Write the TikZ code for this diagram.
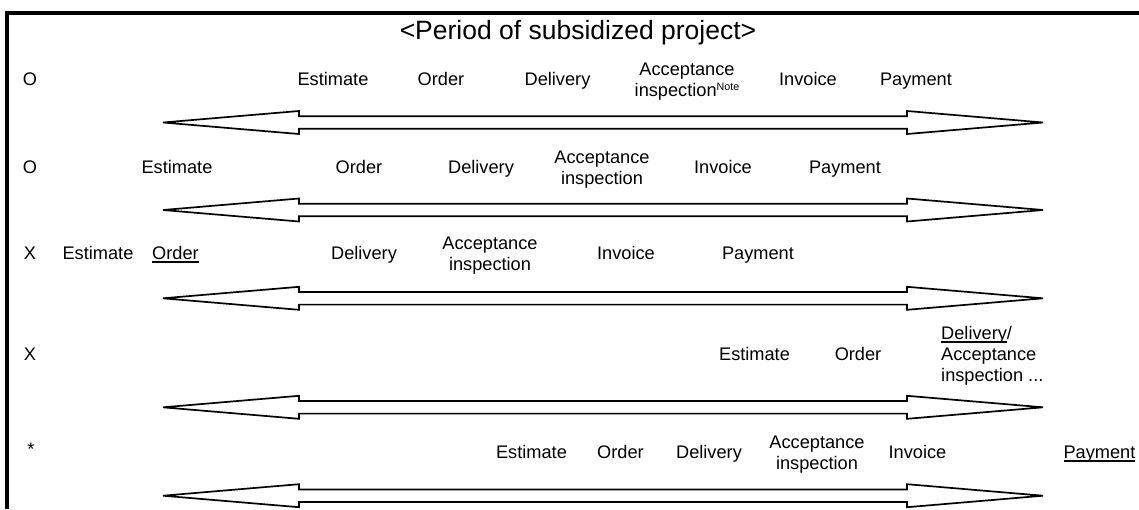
\documentclass[tikz,border=0pt]{standalone}
\usepackage{fontspec}
\setmainfont{Liberation Sans}
\newcommand\uln[1]{\sbox0{#1}\rlap{\rule[-3.7pt]{\wd0}{1.4pt}}\usebox0}
\newcommand\notesup{\raisebox{6.5pt}{\fontsize{10.7}{12}\selectfont Note}}
\tikzset{
  lbl/.style={font=\fontsize{18.2}{21}\selectfont, inner sep=0pt, anchor=base, align=center},
  titlelbl/.style={font=\fontsize{26.5}{30}\selectfont, inner sep=0pt, anchor=base},
  frameline/.style={line width=3.3pt},
  arrowline/.style={line width=1.7pt, line join=miter, fill=white},
  dblarrow/.pic={\draw[arrowline] (163,0) -- (299,-11.5) -- (299,-6.3) -- (907,-6.3) -- (907,-11.5) -- (1043,0) -- (907,11.5) -- (907,6.3) -- (299,6.3) -- (299,11.5) -- cycle;}
}
\begin{document}
\begin{tikzpicture}[x=1pt,y=-1pt]
\useasboundingbox (0,0) rectangle (1139,509);
\draw[frameline] (7,509) -- (7,13) -- (1139,13);
\node[titlelbl] (title) at (578,39) {<Period of subsidized project>};
% arrows
\pic (ar1) at (0,122.5) {dblarrow};
\pic (ar2) at (0,210) {dblarrow};
\pic (ar3) at (0,298.3) {dblarrow};
\pic (ar4) at (0,407.3) {dblarrow};
\pic (ar5) at (0,495.7) {dblarrow};
% row 1
\node[lbl] (m1) at (30,85) {O};
\node[lbl] (e1) at (333,85) {Estimate};
\node[lbl] (o1) at (441,85) {Order};
\node[lbl] (d1) at (557.5,85) {Delivery};
\node[lbl] (a1) at (687,96.5) {Acceptance\\inspection\notesup};
\node[lbl] (i1) at (808,85) {Invoice};
\node[lbl] (p1) at (916,85) {Payment};
% row 2
\node[lbl] (m2) at (30,173) {O};
\node[lbl] (e2) at (177,173) {Estimate};
\node[lbl] (o2) at (359,173) {Order};
\node[lbl] (d2) at (481,173) {Delivery};
\node[lbl] (a2) at (602,184.5) {Acceptance\\inspection};
\node[lbl] (i2) at (723,173) {Invoice};
\node[lbl] (p2) at (845,173) {Payment};
% row 3
\node[lbl] (m3) at (30,259) {X};
\node[lbl] (e3) at (98,259) {Estimate};
\node[lbl] (o3) at (175.5,259) {\uln{Order}};
\node[lbl] (d3) at (364,259) {Delivery};
\node[lbl] (a3) at (490,270.5) {Acceptance\\inspection};
\node[lbl] (i3) at (626,259) {Invoice};
\node[lbl] (p3) at (758,259) {Payment};
% row 4
\node[lbl] (m4) at (30,360) {X};
\node[lbl] (e4) at (754.5,360) {Estimate};
\node[lbl] (o4) at (858,360) {Order};
\node[lbl, align=left, anchor=base west] (d4) at (941,381) {\uln{Delivery}/\\Acceptance\\inspection ...};
% row 5
\node[lbl] (m5) at (31,455) {*};
\node[lbl] (e5) at (531.5,458) {Estimate};
\node[lbl] (o5) at (620.5,458) {Order};
\node[lbl] (d5) at (709,458) {Delivery};
\node[lbl] (a5) at (817,469.5) {Acceptance\\inspection};
\node[lbl] (i5) at (917.5,458) {Invoice};
\node[lbl] (p5) at (1099.5,458) {\uln{Payment}};
\end{tikzpicture}
\end{document}
